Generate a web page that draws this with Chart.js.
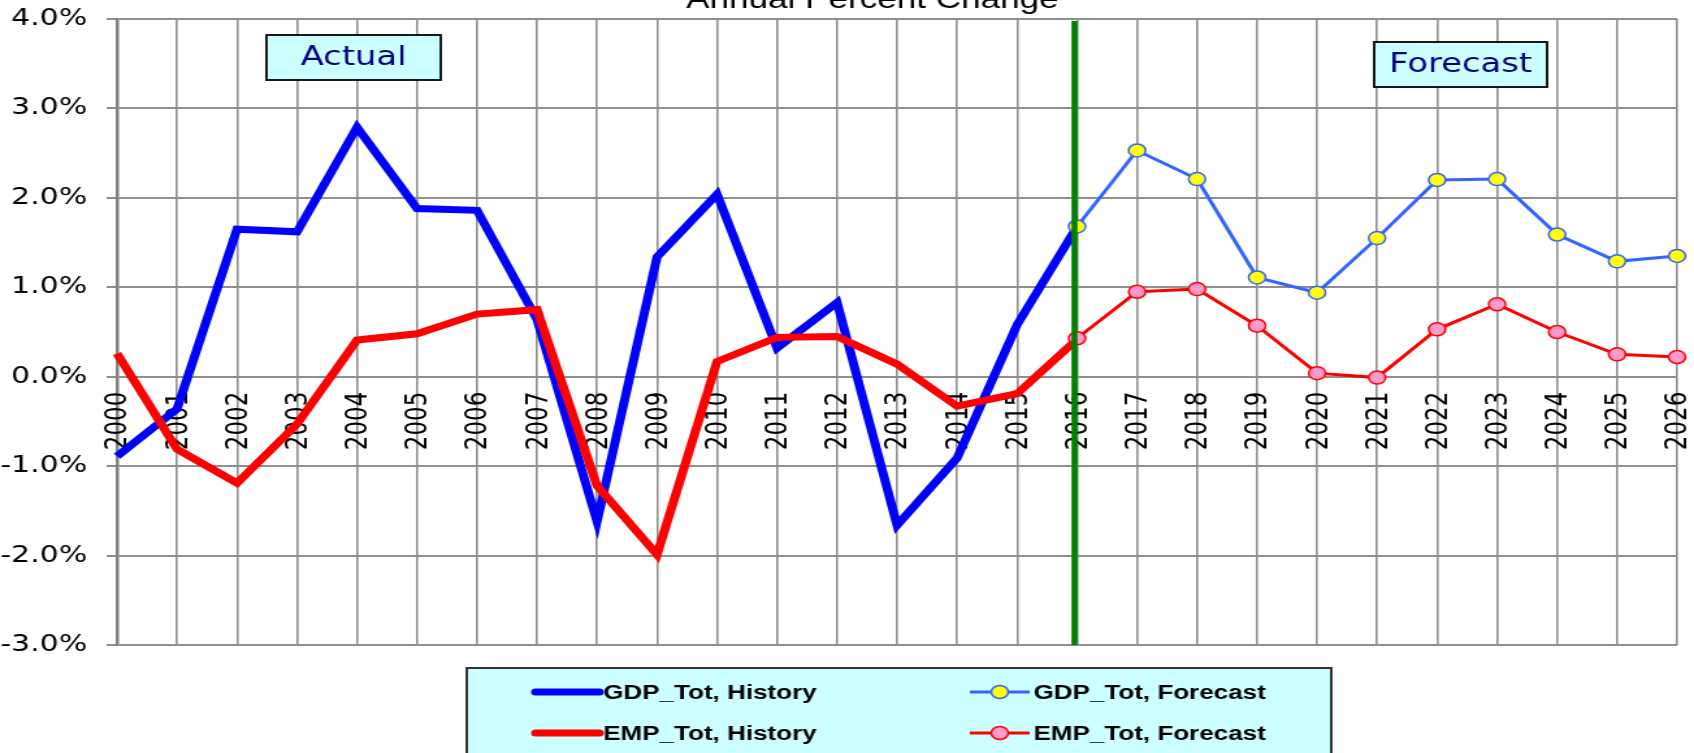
<!DOCTYPE html>
<html>
<head>
<meta charset="utf-8">
<title>Annual Percent Change</title>
<script src="https://cdn.jsdelivr.net/npm/chart.js@4.4.1/dist/chart.umd.min.js"></script>
<style>
html, body { margin: 0; padding: 0; background: #fff; overflow: hidden; }
#myChart { display: block; }
</style>
</head>
<body>
<!-- the original picture is stretched sideways, so the canvas is drawn narrow and shown wide -->
<canvas id="myChart" width="1303" height="753" style="width:1694px;height:753px"></canvas>
<script>
var years = ["2000","2001","2002","2003","2004","2005","2006","2007","2008","2009","2010","2011","2012","2013",
             "2014","2015","2016","2017","2018","2019","2020","2021","2022","2023","2024","2025","2026"];

// 2000 - 2016
var gdpHistory = [-0.89, -0.36, 1.65, 1.62, 2.79, 1.88, 1.86, 0.64, -1.62, 1.34, 2.04, 0.32, 0.83, -1.66, -0.91, 0.58, 1.68];
var empHistory = [0.26, -0.81, -1.19, -0.53, 0.41, 0.48, 0.70, 0.75, -1.22, -1.99, 0.17, 0.44, 0.45, 0.14, -0.33, -0.19, 0.42];

// 2016 - 2026
var gdpForecast = [1.68, 2.53, 2.21, 1.11, 0.94, 1.55, 2.20, 2.21, 1.59, 1.29, 1.35];
var empForecast = [0.43, 0.95, 0.98, 0.57, 0.04, -0.01, 0.53, 0.81, 0.50, 0.25, 0.22];

var yTicks = [-3, -2, -1, 0, 1, 2, 3, 4];
var splitYear = "2016";
var chartTitle = "Annual Percent Change";

var splitIdx = years.indexOf(splitYear);

// pad the series out to the full year range
function pad(values, start) {
    var out = [];
    for (var i = 0; i < years.length; i++) {
        var k = i - start;
        out.push(k >= 0 && k < values.length ? values[k] : null);
    }
    return out;
}

var tickFont = "DejaVu Sans, sans-serif";
var gridColor = "#8f8f8f";

var extras = {
    id: "extras",
    beforeDraw: function(chart) {
        var ctx = chart.ctx;
        ctx.save();
        ctx.fillStyle = "#fff";
        ctx.fillRect(0, 0, chart.width, chart.height);
        ctx.restore();
    },
    beforeDatasetsDraw: function(chart) {
        // year labels sit along the zero line
        var ctx = chart.ctx;
        var xs = chart.scales.x, ys = chart.scales.y;
        var y0 = ys.getPixelForValue(0);
        ctx.save();
        ctx.fillStyle = "#000";
        ctx.font = "23px " + tickFont;
        ctx.textAlign = "right";
        ctx.textBaseline = "middle";
        for (var i = 0; i < years.length; i++) {
            ctx.save();
            ctx.translate(xs.getPixelForValue(i) + 1.5, y0 + 15);
            ctx.rotate(-Math.PI / 2);
            ctx.fillText(years[i], 0, 0);
            ctx.restore();
        }
        ctx.restore();
    },
    afterDatasetsDraw: function(chart) {
        var ctx = chart.ctx;
        var area = chart.chartArea;
        var xs = chart.scales.x;

        // green divider between actual and forecast
        var gx = xs.getPixelForValue(splitIdx) - 2;
        ctx.save();
        ctx.strokeStyle = "#008000";
        ctx.lineWidth = 4.6;
        ctx.beginPath();
        ctx.moveTo(gx, area.top + 2);
        ctx.lineTo(gx, area.bottom);
        ctx.stroke();
        ctx.restore();

        drawTag(ctx, "Actual", 205, 35, 134, 45);
        drawTag(ctx, "Forecast", 1057, 42, 133, 45);

        // title, mostly cut off at the top edge
        ctx.save();
        ctx.fillStyle = "#000";
        ctx.font = "27px 'Liberation Sans', Arial, sans-serif";
        ctx.textAlign = "center";
        ctx.textBaseline = "alphabetic";
        ctx.fillText(chartTitle, 671, 8);
        ctx.restore();

        drawLegend(chart);
    }
};

function drawTag(ctx, text, x, y, w, h) {
    ctx.save();
    ctx.fillStyle = "#ccffff";
    ctx.fillRect(x, y, w, h);
    ctx.strokeStyle = "#000";
    ctx.lineWidth = 1.8;
    ctx.strokeRect(x, y, w, h);
    ctx.fillStyle = "#000080";
    ctx.font = "26px " + tickFont;
    ctx.textAlign = "center";
    ctx.textBaseline = "middle";
    ctx.fillText(text, x + w / 2, y + h / 2 + 1);
    ctx.restore();
}

function drawLegend(chart) {
    var ctx = chart.ctx;
    var ds = chart.data.datasets;
    ctx.save();
    ctx.fillStyle = "#ccffff";
    ctx.fillRect(359, 668, 665, 100);
    ctx.strokeStyle = "#333";
    ctx.lineWidth = 2;
    ctx.strokeRect(359, 668, 665, 100);

    var cols = [{x0: 412, x1: 461, tx: 464}, {x0: 746, x1: 792, tx: 795}];
    var rows = [692, 733];
    ctx.font = "bold 20px 'Liberation Sans', Arial, sans-serif";
    ctx.textBaseline = "middle";
    ctx.textAlign = "left";
    for (var i = 0; i < ds.length; i++) {
        var d = ds[i];
        var c = cols[d.legendCol], y = rows[d.legendRow];
        ctx.strokeStyle = d.borderColor;
        ctx.lineWidth = d.borderWidth;
        ctx.lineCap = d.pointRadius ? "butt" : "round";
        ctx.beginPath();
        ctx.moveTo(c.x0, y);
        ctx.lineTo(c.x1, y);
        ctx.stroke();
        if (d.pointRadius) {
            ctx.beginPath();
            ctx.arc((c.x0 + c.x1) / 2, y, d.pointRadius, 0, Math.PI * 2);
            ctx.fillStyle = d.pointBackgroundColor;
            ctx.fill();
            ctx.lineWidth = d.pointBorderWidth;
            ctx.strokeStyle = d.pointBorderColor;
            ctx.stroke();
        }
        ctx.fillStyle = "#000";
        ctx.fillText(d.label, c.tx, y + 1);
    }
    ctx.restore();
}

new Chart("myChart", {
    type: "line",
    data: {
        labels: years,
        datasets: [{
            label: "GDP_Tot, History",
            data: pad(gdpHistory, 0),
            borderColor: "#0000ff",
            borderWidth: 7,
            pointRadius: 0,
            order: 3,
            legendCol: 0, legendRow: 0
        }, {
            label: "GDP_Tot, Forecast",
            data: pad(gdpForecast, splitIdx),
            borderColor: "#3366ff",
            borderWidth: 3,
            pointRadius: 6.5,
            pointBackgroundColor: "#ffff00",
            pointBorderColor: "#3366ff",
            pointBorderWidth: 1.5,
            order: 0,
            legendCol: 1, legendRow: 0
        }, {
            label: "EMP_Tot, History",
            data: pad(empHistory, 0),
            borderColor: "#ff0000",
            borderWidth: 7,
            pointRadius: 0,
            order: 2,
            legendCol: 0, legendRow: 1
        }, {
            label: "EMP_Tot, Forecast",
            data: pad(empForecast, splitIdx),
            borderColor: "#ff0000",
            borderWidth: 3,
            pointRadius: 6.5,
            pointBackgroundColor: "#ff99cc",
            pointBorderColor: "#ff0000",
            pointBorderWidth: 1.5,
            order: 1,
            legendCol: 1, legendRow: 1
        }]
    },
    options: {
        responsive: false,
        animation: false,
        devicePixelRatio: 1,
        spanGaps: false,
        elements: { line: { tension: 0 } },
        layout: { padding: { top: 19, right: 13, bottom: 108, left: 0 } },
        plugins: {
            legend: { display: false },
            title: { display: false },
            tooltip: { enabled: false }
        },
        scales: {
            x: {
                type: "category",
                offset: false,
                grid: { color: gridColor, lineWidth: 1.6, drawTicks: false },
                border: { display: false },
                ticks: { display: false },
                afterFit: function(scale) { scale.height = 0; }
            },
            y: {
                min: yTicks[0],
                max: yTicks[yTicks.length - 1],
                afterBuildTicks: function(scale) {
                    scale.ticks = yTicks.map(function(v) { return {value: v}; });
                },
                grid: { color: gridColor, lineWidth: 2, tickLength: 8 },
                border: { color: "#808080", width: 2.5 },
                ticks: {
                    color: "#000",
                    font: { family: tickFont, size: 23 },
                    padding: 15,
                    callback: function(v) { return v.toFixed(1) + "%"; }
                },
                afterFit: function(scale) {
                    // fixed axis width; the label padding should not push the plot down
                    scale.width = 90;
                    scale.paddingTop = 0;
                    scale.paddingBottom = 0;
                }
            }
        }
    },
    plugins: [extras]
});
</script>
</body>
</html>
